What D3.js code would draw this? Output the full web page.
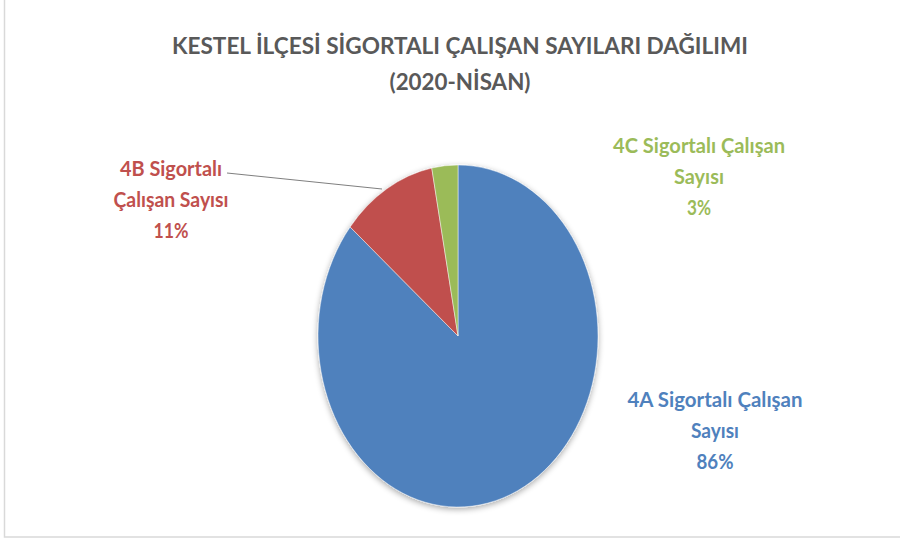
<!DOCTYPE html>
<html><head><meta charset="utf-8">
<script src="https://cdn.jsdelivr.net/npm/d3@7"></script>
<style>html,body{margin:0;padding:0;background:#fff;}svg{display:block;}</style>
</head><body>
<svg id="chart" width="900" height="540"></svg>
<script>
const titleLines = ["KESTEL İLÇESİ SİGORTALI ÇALIŞAN SAYILARI DAĞILIMI", "(2020-NİSAN)"];
const categories = ["4A Sigortalı Çalışan Sayısı", "4B Sigortalı Çalışan Sayısı", "4C Sigortalı Çalışan Sayısı"];
const values = [86, 11, 3];
const colors = ["#4F81BD", "#C0504D", "#9BBB59"];
const labelLines = [
  ["4A Sigortalı Çalışan", "Sayısı"],
  ["4B Sigortalı", "Çalışan Sayısı"],
  ["4C Sigortalı Çalışan", "Sayısı"]
];

const svg = d3.select("#chart");
const font = "Lato, 'Open Sans', sans-serif";

// border
svg.append("rect").attr("x", 4.5).attr("y", -1).attr("width", 900).attr("height", 538)
  .attr("fill", "#fff").attr("stroke", "#d9d9d9").attr("stroke-width", 1.5);

// title
const titleWidths = [576, 141];
svg.append("g").selectAll("text").data(titleLines).join("text")
  .attr("x", 460).attr("y", (d, i) => 54 + i * 36)
  .attr("text-anchor", "middle")
  .attr("font-family", font).attr("font-weight", "bold").attr("font-size", 23)
  .attr("fill", "#595959")
  .attr("textLength", (d, i) => titleWidths[i])
  .attr("lengthAdjust", "spacingAndGlyphs")
  .text(d => d);

// defs shadow
const defs = svg.append("defs");
const f = defs.append("filter").attr("id", "sh").attr("x", "-20%").attr("y", "-20%").attr("width", "140%").attr("height", "140%");
f.append("feGaussianBlur").attr("in", "SourceAlpha").attr("stdDeviation", 3).attr("result", "b");
f.append("feOffset").attr("in", "b").attr("dx", 0).attr("dy", 2).attr("result", "o");
f.append("feComponentTransfer").attr("in", "o").attr("result", "o2")
  .append("feFuncA").attr("type", "linear").attr("slope", 0.35);
const m = f.append("feMerge");
m.append("feMergeNode").attr("in", "o2");
m.append("feMergeNode").attr("in", "SourceGraphic");

const cx = 458, cy = 336, rx = 140, ry = 171, R = 100;
const data = categories.map((c, i) => ({cat: c, value: values[i], color: colors[i], lines: labelLines[i]}));
const pie = d3.pie().value(d => d.value).sort(null);
const arcs = pie(data);
const arc = d3.arc().innerRadius(0).outerRadius(R);

const pg = svg.append("g").attr("filter", "url(#sh)");
pg.append("g").attr("transform", `translate(${cx},${cy}) scale(${rx / R},${ry / R})`)
  .selectAll("path").data(arcs).join("path")
  .attr("d", arc).attr("fill", d => d.data.color)
  .attr("stroke", "#fff").attr("stroke-width", 0.3);

// labels
const labelLayout = [
  {x: 715, y: 407, w: [175, 48, 37]},
  {x: 171, y: 176, w: [102, 115, 35]},
  {x: 699, y: 153, w: [172, 50, 24]}
];
const lg = svg.append("g");
arcs.forEach((a, i) => {
  const lines = a.data.lines.concat([Math.round(a.data.value) + "%"]);
  const L = labelLayout[i];
  lg.append("g").selectAll("text").data(lines).join("text")
    .attr("x", L.x).attr("y", (d, j) => L.y + j * 31)
    .attr("text-anchor", "middle")
    .attr("font-family", font).attr("font-weight", "bold").attr("font-size", 21)
    .attr("fill", a.data.color)
    .attr("textLength", (d, j) => L.w[j])
    .attr("lengthAdjust", "spacingAndGlyphs")
    .text(d => d);
});

// leader line for 4B
svg.append("line").attr("x1", 227).attr("y1", 173).attr("x2", 382).attr("y2", 189)
  .attr("stroke", "#7f7f7f").attr("stroke-width", 1);
</script>
</body></html>
